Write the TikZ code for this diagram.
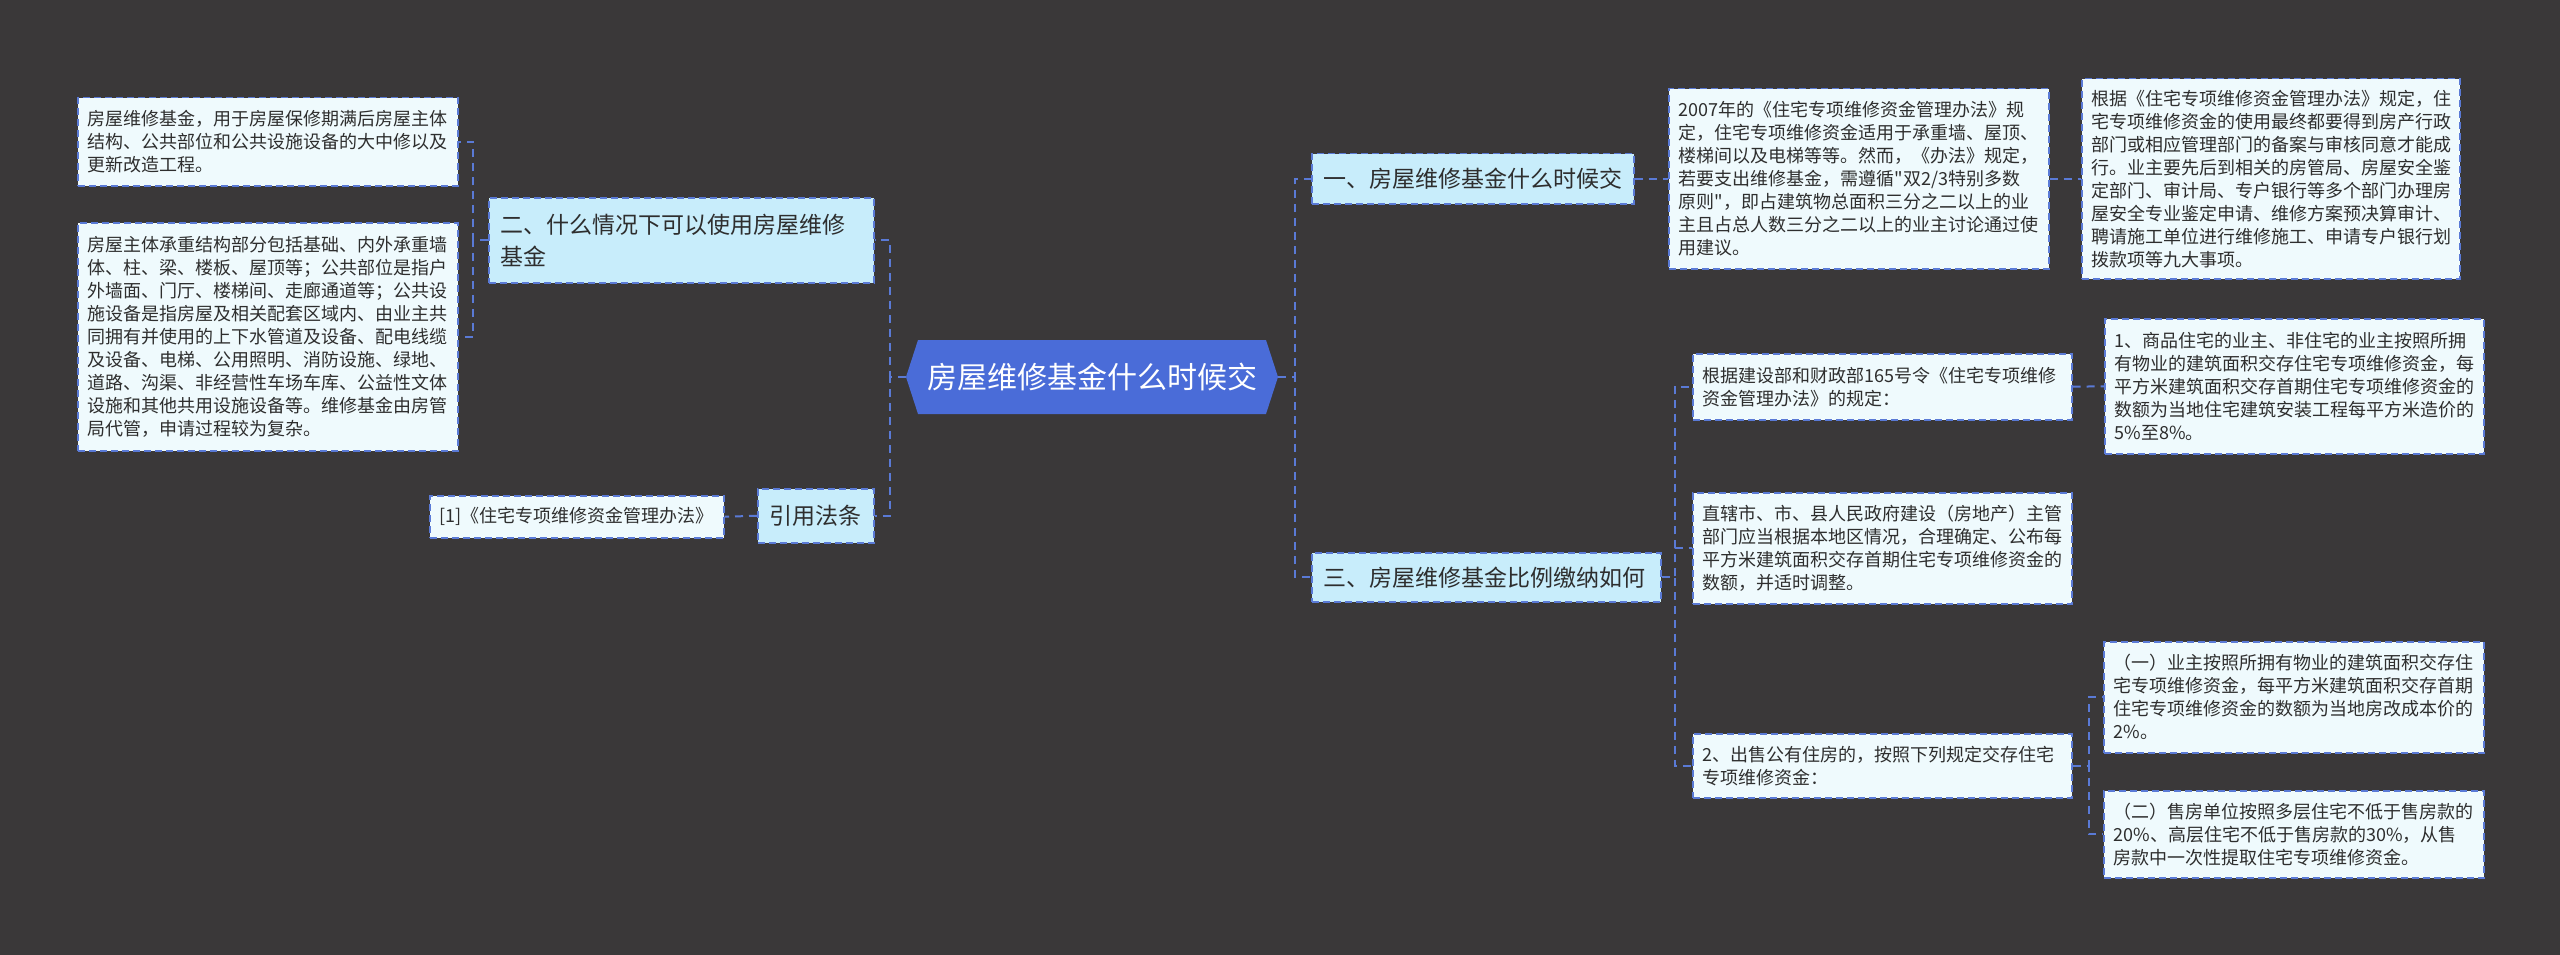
\documentclass[tikz,border=0pt]{standalone}
\usepackage{fontspec}
\setmainfont{Noto Sans CJK SC}[Ligatures=TeXOff]
\usepackage{tikz}
\usetikzlibrary{shapes.symbols}
\definecolor{bgC}{HTML}{3A3839}
\definecolor{rootC}{HTML}{4A6CD8}
\definecolor{topicC}{HTML}{C8EDFB}
\definecolor{leafC}{HTML}{EFFAFD}
\definecolor{lineC}{HTML}{5A7AD6}
\definecolor{textC}{HTML}{2E2E2E}

\begin{document}
\begin{tikzpicture}[x=1pt, y=-1pt,
  topic/.style={draw=lineC, line width=1.5pt, dash pattern=on 7pt off 4pt, fill=topicC, text=textC, anchor=north west, align=left, inner xsep=12pt, inner ysep=0pt, font={\fontsize{23}{32}\selectfont}},
  leaf/.style={draw=lineC, line width=1.5pt, dash pattern=on 7pt off 4pt, fill=leafC, text=textC, anchor=north west, align=left, inner xsep=10pt, inner ysep=0pt, font={\fontsize{18}{23}\selectfont}},
  link/.style={draw=lineC, line width=2pt, dash pattern=on 8pt off 6pt}]
\fill[bgC] (0,0) rectangle (2560,955);

\node[signal, signal to=west and east, signal pointer angle=144, fill=rootC, text=white, minimum width=372pt, minimum height=74pt, inner sep=0pt, font={\fontsize{30}{36}\selectfont}] (root) at (1092,377) {房屋维修基金什么时候交};

\node[topic, text width=298pt, minimum height=50pt] (t1) at (1311,153) {一、房屋维修基金什么时候交};
\node[topic, text width=361pt, minimum height=85pt] (t2) at (488,197) {二、什么情况下可以使用房屋维修\\基金};
\node[topic, text width=325pt, minimum height=49pt] (t3) at (1311,552) {三、房屋维修基金比例缴纳如何};
\node[topic, text width=92pt, minimum height=54pt] (t4) at (757,488) {引用法条};

\node[leaf, text width=360pt, minimum height=88pt] (l1) at (77,97) {房屋维修基金，用于房屋保修期满后房屋主体\\结构、公共部位和公共设施设备的大中修以及\\更新改造工程。};
\node[leaf, text width=360pt, minimum height=228pt] (l2) at (77,222) {房屋主体承重结构部分包括基础、内外承重墙\\体、柱、梁、楼板、屋顶等；公共部位是指户\\外墙面、门厅、楼梯间、走廊通道等；公共设\\施设备是指房屋及相关配套区域内、由业主共\\同拥有并使用的上下水管道及设备、配电线缆\\及设备、电梯、公用照明、消防设施、绿地、\\道路、沟渠、非经营性车场车库、公益性文体\\设施和其他共用设施设备等。维修基金由房管\\局代管，申请过程较为复杂。};
\node[leaf, text width=274pt, minimum height=42pt] (l3) at (429,495) {[1]《住宅专项维修资金管理办法》};

\node[leaf, text width=360pt, minimum height=180pt] (r1) at (1668,88) {2007年的《住宅专项维修资金管理办法》规\\定，住宅专项维修资金适用于承重墙、屋顶、\\楼梯间以及电梯等等。然而，《办法》规定，\\若要支出维修基金，需遵循"双2/3特别多数\\原则"，即占建筑物总面积三分之二以上的业\\主且占总人数三分之二以上的业主讨论通过使\\用建议。};
\node[leaf, text width=358pt, minimum height=200pt] (r2) at (2081,78) {根据《住宅专项维修资金管理办法》规定，住\\宅专项维修资金的使用最终都要得到房产行政\\部门或相应管理部门的备案与审核同意才能成\\行。业主要先后到相关的房管局、房屋安全鉴\\定部门、审计局、专户银行等多个部门办理房\\屋安全专业鉴定申请、维修方案预决算审计、\\聘请施工单位进行维修施工、申请专户银行划\\拨款项等九大事项。};

\node[leaf, text width=359pt, minimum height=66pt] (c1) at (1692,353) {根据建设部和财政部165号令《住宅专项维修\\资金管理办法》的规定：};
\node[leaf, text width=359pt, minimum height=111pt] (c2) at (1692,492) {直辖市、市、县人民政府建设（房地产）主管\\部门应当根据本地区情况，合理确定、公布每\\平方米建筑面积交存首期住宅专项维修资金的\\数额，并适时调整。};
\node[leaf, text width=359pt, minimum height=64pt] (c3) at (1692,733) {2、出售公有住房的，按照下列规定交存住宅\\专项维修资金：};
\node[leaf, text width=359pt, minimum height=135pt] (d1) at (2104,318) {1、商品住宅的业主、非住宅的业主按照所拥\\有物业的建筑面积交存住宅专项维修资金，每\\平方米建筑面积交存首期住宅专项维修资金的\\数额为当地住宅建筑安装工程每平方米造价的\\5\%至8\%。};
\node[leaf, text width=360pt, minimum height=111pt] (e1) at (2103,641) {（一）业主按照所拥有物业的建筑面积交存住\\宅专项维修资金，每平方米建筑面积交存首期\\住宅专项维修资金的数额为当地房改成本价的\\2\%。};
\node[leaf, text width=360pt, minimum height=87pt] (e2) at (2103,790) {（二）售房单位按照多层住宅不低于售房款的\\20\%、高层住宅不低于售房款的30\%，从售\\房款中一次性提取住宅专项维修资金。};

\draw[link] (root.east) -- ++(17,0) |- (t1.west);
\draw[link] (root.east) -- ++(17,0) |- (t3.west);
\draw[link] (root.west) -- ++(-16,0) |- (t2.east);
\draw[link] (root.west) -- ++(-16,0) |- (t4.east);
\draw[link] (t2.west) -- ++(-15,0) |- (l1.east);
\draw[link] (t2.west) -- ++(-15,0) |- (l2.east);
\draw[link] (t4.west) -- (l3.east);
\draw[link] (t1.east) -- (r1.west);
\draw[link] (r1.east) -- (r2.west);
\draw[link] (t3.east) -- ++(13,0) |- (c1.west);
\draw[link] (t3.east) -- ++(13,0) |- (c2.west);
\draw[link] (t3.east) -- ++(13,0) |- (c3.west);
\draw[link] (c1.east) -- (d1.west);
\draw[link] (c3.east) -- ++(16,0) |- (e1.west);
\draw[link] (c3.east) -- ++(16,0) |- (e2.west);
\end{tikzpicture}
\end{document}
